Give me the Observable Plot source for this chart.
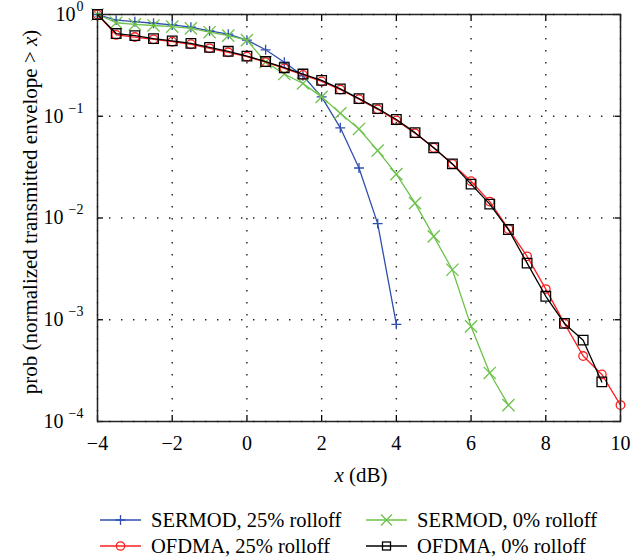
<!DOCTYPE html>
<html>
<head>
<meta charset="utf-8">
<script src="https://cdn.jsdelivr.net/npm/d3@7"></script>
<script src="https://cdn.jsdelivr.net/npm/@observablehq/plot@0.6"></script>
<style>
  body { margin: 0; background: #fff; }
  #wrap { position: relative; width: 643px; height: 558px; font-family: "Liberation Serif", "DejaVu Serif", serif; color: #000; overflow: hidden; }
  #chart { position: absolute; left: 0; top: 0; }
  .lab { position: absolute; font-size: 21px; line-height: 21px; white-space: nowrap; }
  .leg { position: absolute; display: flex; align-items: center; font-size: 20.5px; line-height: 22px; white-space: nowrap; }
  .leg svg { margin-right: 10px; }
</style>
</head>
<body>
<div id="wrap">
  <div id="chart"></div>
  <div class="lab" id="xlab" style="left:361px; top:465px; transform:translateX(-50%);"><i>x</i> (dB)</div>
  <div class="lab" id="ylab" style="left:30px; top:212px; transform:translate(-50%,-50%) rotate(-90deg);">prob (normalized transmitted envelope &gt; <i>x</i>)</div>
  <div id="legend"></div>
</div>
<script>
// ---- data (x in dB, probability) ----
const sermod25X = [-4,-3.5,-3,-2.5,-2,-1.5,-1,-0.5,0,0.5,1,1.5,2,2.5,3,3.5,4];
const sermod25P = [1.0,0.88,0.85,0.82,0.79,0.75,0.69,0.64,0.56,0.45,0.34,0.25,0.155,0.077,0.031,0.0088,0.0009];

const sermod0X = [-4,-3.5,-3,-2.5,-2,-1.5,-1,-0.5,0,0.5,1,1.5,2,2.5,3,3.5,4,4.5,5,5.5,6,6.5,7];
const sermod0P = [1.0,0.83,0.80,0.78,0.76,0.73,0.67,0.62,0.56,0.34,0.26,0.21,0.155,0.107,0.075,0.046,0.027,0.014,0.0066,0.0031,0.00086,0.00030,0.000145];

const ofdma25X = [-4,-3.5,-3,-2.5,-2,-1.5,-1,-0.5,0,0.5,1,1.5,2,2.5,3,3.5,4,4.5,5,5.5,6,6.5,7,7.5,8,8.5,9,9.5,10];
const ofdma25P = [1.0,0.63,0.60,0.57,0.54,0.51,0.465,0.425,0.385,0.34,0.295,0.255,0.22,0.183,0.147,0.117,0.091,0.068,0.049,0.034,0.023,0.0145,0.0078,0.0042,0.0020,0.00092,0.00044,0.00029,0.000145];

const ofdma0X = [-4,-3.5,-3,-2.5,-2,-1.5,-1,-0.5,0,0.5,1,1.5,2,2.5,3,3.5,4,4.5,5,5.5,6,6.5,7,7.5,8,8.5,9,9.5];
const ofdma0P = [1.0,0.65,0.62,0.58,0.55,0.52,0.475,0.435,0.39,0.345,0.30,0.26,0.225,0.186,0.149,0.119,0.093,0.069,0.049,0.034,0.0215,0.0137,0.0077,0.0036,0.0017,0.00092,0.00063,0.000245];

const seriesNames = ["SERMOD, 25% rolloff", "SERMOD, 0% rolloff", "OFDMA, 25% rolloff", "OFDMA, 0% rolloff"];
const seriesColors = ["#2f4fae", "#6cc24a", "#ff1f1f", "#000000"];
const seriesSymbols = ["plus", "times", "circle", "square"];
const seriesR = [3.3, 5.6, 4.3, 5.4];

const xTicks = [-4,-2,0,2,4,6,8,10];
const yTicks = [1e-4,1e-3,1e-2,1e-1,1];
const yTicksNeg = yTicks.filter(d => d < 1);
const yTicksZero = yTicks.filter(d => d === 1);
const expo = d => String(Math.round(Math.log10(d))).replace("-", "\u2212");

const seriesData = [
  sermod25X.map((x, i) => ({x, p: sermod25P[i]})),
  sermod0X.map((x, i) => ({x, p: sermod0P[i]})),
  ofdma25X.map((x, i) => ({x, p: ofdma25P[i]})),
  ofdma0X.map((x, i) => ({x, p: ofdma0P[i]}))
];

const seriesMarks = [];
for (const k of [0, 1, 2, 3]) {
  seriesMarks.push(Plot.line(seriesData[k], {x: "x", y: "p", stroke: seriesColors[k], strokeWidth: 1.3}));
  seriesMarks.push(Plot.dot(seriesData[k], {x: "x", y: "p", stroke: seriesColors[k], fill: "none", symbol: seriesSymbols[k], r: seriesR[k], strokeWidth: 1.3}));
}

const gridStyle = {stroke: "#222", strokeOpacity: 1, strokeWidth: 1.4, strokeDasharray: "1.4,10.6"};
const FONT = "'Liberation Serif', 'DejaVu Serif', serif";

const chart = Plot.plot({
  width: 643,
  height: 500,
  marginLeft: 97,
  marginRight: 23,
  marginTop: 14,
  marginBottom: 79,
  style: {fontFamily: FONT, fontSize: "20px", background: "#fff", color: "#000"},
  x: {domain: [-4, 10], label: null},
  y: {type: "log", domain: [1e-4, 1], label: null},
  marks: [
    Plot.gridX(xTicks, gridStyle),
    Plot.gridY(yTicks, gridStyle),
    Plot.axisX(xTicks, {anchor: "bottom", tickSize: -6, tickFormat: () => "", label: null, strokeWidth: 1.3}),
    Plot.axisX(xTicks, {anchor: "top", tickSize: -6, tickFormat: () => "", label: null, strokeWidth: 1.3}),
    Plot.axisY(yTicks, {anchor: "left", tickSize: -6, tickFormat: () => "", label: null, strokeWidth: 1.3}),
    Plot.axisY(yTicks, {anchor: "right", tickSize: -6, tickFormat: () => "", label: null, strokeWidth: 1.3}),
    Plot.axisX(xTicks, {anchor: "bottom", tickSize: 0, tickPadding: 14, label: null, fontSize: 20}),
    // y tick labels: mantissa "10" and superscript exponent
    Plot.text(yTicksNeg, {y: d => d, text: () => "10", frameAnchor: "left", textAnchor: "end", dx: -34, fontSize: 20}),
    Plot.text(yTicksZero, {y: d => d, text: () => "10", frameAnchor: "left", textAnchor: "end", dx: -22, fontSize: 20}),
    Plot.text(yTicks, {y: d => d, text: expo, frameAnchor: "left", textAnchor: "end", dx: -14, dy: -8, fontSize: 14}),
    ...seriesMarks,
    Plot.frame({stroke: "#222", strokeWidth: 1.5})
  ]
});
document.getElementById("chart").appendChild(chart);

// legend (two columns, two rows)
const legend = document.getElementById("legend");
const legendPos = [[100, 520], [366, 520], [100, 546], [366, 546]];
function symbolPath(sym, c) {
  const cx = 20.5, cy = 10;
  if (sym === "plus") return `<path d="M${cx-5},${cy}H${cx+5}M${cx},${cy-5}V${cy+5}" stroke="${c}" stroke-width="1.3" fill="none"/>`;
  if (sym === "times") return `<path d="M${cx-5.5},${cy-5.5}L${cx+5.5},${cy+5.5}M${cx-5.5},${cy+5.5}L${cx+5.5},${cy-5.5}" stroke="${c}" stroke-width="1.3" fill="none"/>`;
  if (sym === "circle") return `<circle cx="${cx}" cy="${cy}" r="4.2" stroke="${c}" stroke-width="1.3" fill="none"/>`;
  return `<rect x="${cx-4}" y="${cy-4}" width="8" height="8" stroke="${c}" stroke-width="1.3" fill="none"/>`;
}
[0, 1, 2, 3].forEach((k, i) => {
  const [lx, ly] = legendPos[i];
  const div = document.createElement("div");
  div.className = "leg";
  div.style.left = lx + "px";
  div.style.top = (ly - 11) + "px";
  div.innerHTML = `<svg width="41" height="20" viewBox="0 0 41 20"><line x1="0" y1="10" x2="41" y2="10" stroke="${seriesColors[k]}" stroke-width="1.3"/>${symbolPath(seriesSymbols[k], seriesColors[k])}</svg><span>${seriesNames[k]}</span>`;
  legend.appendChild(div);
});
</script>
</body>
</html>
